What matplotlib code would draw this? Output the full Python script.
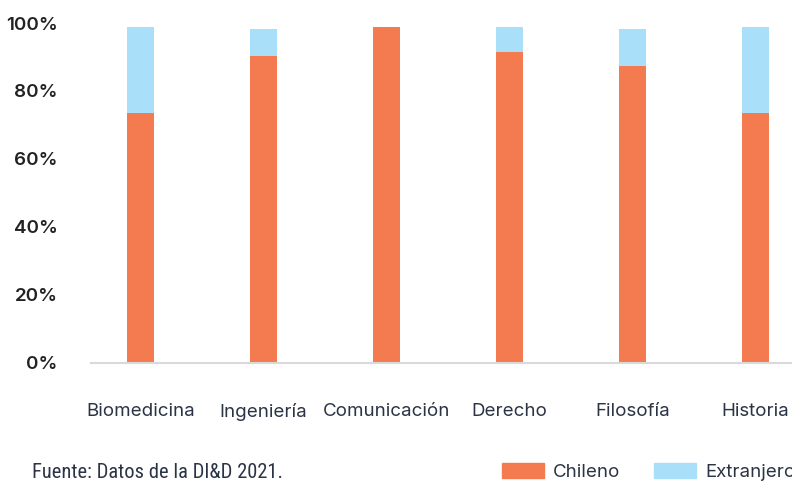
import matplotlib
matplotlib.use("Agg")
import matplotlib.pyplot as plt
import numpy as np
from matplotlib.patches import Patch
from matplotlib import font_manager as fm

categories = ["Biomedicina", "Ingeniería", "Comunicación", "Derecho", "Filosofía", "Historia"]
chileno = [73.6, 90.4, 98.7, 91.6, 87.2, 73.6]
extranjero = [25.1, 7.9, 0.0, 7.1, 11.1, 25.1]
yticks = [0, 20, 40, 60, 80, 100]
ytick_labels = ["0%", "20%", "40%", "60%", "80%", "100%"]

c_chi = "#F47B4F"
c_ext = "#AADFFA"
txt = "#2B3445"

names = {f.name for f in fm.fontManager.ttflist}
def pick(cands):
    for c in cands:
        if c in names:
            return c
    return "DejaVu Sans"
main_font = pick(["Inter", "Figtree", "Noto Sans"])
tick_font = pick(["Inter", "Figtree", "Noto Sans"])
narrow = pick(["Roboto Condensed", "Barlow Semi Condensed", "IBM Plex Sans Condensed", "Liberation Sans Narrow"])

fig = plt.figure(figsize=(7.92, 4.83), dpi=100)
ax = fig.add_axes([91/792, (483-362.5)/483, 1 - 91/792, (362.5-23)/483])

x = np.arange(len(categories))
w = 0.22
ax.bar(x, chileno, width=w, color=c_chi, zorder=2)
ax.bar(x, extranjero, width=w, bottom=chileno, color=c_ext, zorder=2)

ax.set_xlim(-0.402, 5.297)
ax.set_ylim(0, 100)
ax.set_yticks(yticks)
ax.set_yticklabels(ytick_labels, fontsize=13.5, fontweight="semibold", color="#222222", family=tick_font)
ax.set_xticks(x)
ax.set_xticklabels(categories, fontsize=13.5, color=txt, family=main_font)
ax.tick_params(axis="x", length=0, pad=29)
ax.tick_params(axis="y", length=0, pad=24)
for s in ["top", "right", "left"]:
    ax.spines[s].set_visible(False)
ax.spines["bottom"].set_color("#D9D9D9")
ax.spines["bottom"].set_linewidth(1.5)

fig.text(32/792, 1 - 472/483, "Fuente: Datos de la DI&D 2021.", fontsize=14.8, color=txt,
         family=narrow, va="center", ha="left")

handles = [Patch(color=c_chi, label="Chileno"), Patch(color=c_ext, label="Extranjero")]
fig.legend(handles=handles, loc="center left", bbox_to_anchor=(502/792, 1 - 472/483), ncol=2,
           frameon=False, handlelength=2.24, handleheight=0.85, columnspacing=1.8,
           handletextpad=0.48, borderpad=0, borderaxespad=0,
           prop={"family": main_font, "size": 13.5})
for t in fig.legends[0].get_texts():
    t.set_color(txt)

fig.savefig("out.png", dpi=100)
